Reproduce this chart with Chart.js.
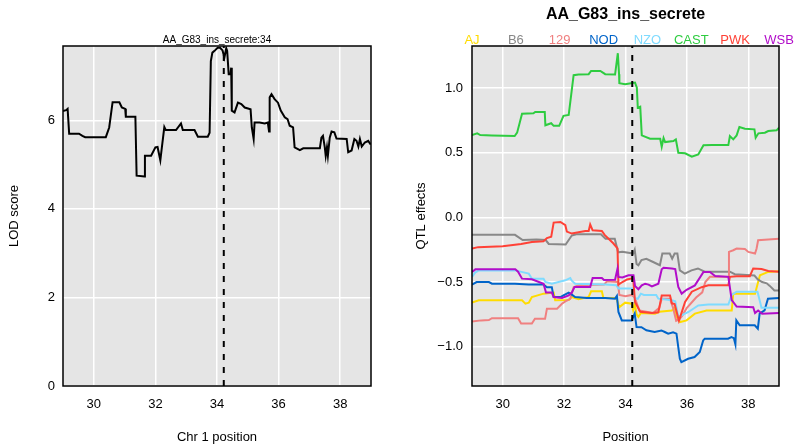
<!DOCTYPE html>
<html>
<head>
<meta charset="utf-8">
<script src="https://cdn.jsdelivr.net/npm/chart.js@4/dist/chart.umd.min.js"></script>
<style>
  html, body { margin:0; padding:0; background:#fff; }
  #wrap { position:relative; width:796px; height:446px; overflow:hidden; }
  canvas { position:absolute; top:0; }
  #c1 { left:0; }
  #c2 { left:400px; }
</style>
</head>
<body>
<div id="wrap">
  <canvas id="c1" width="400" height="446"></canvas>
  <canvas id="c2" width="396" height="446"></canvas>
</div>
<script>
// ---------- data ----------
const lodTitle = 'AA_G83_ins_secrete:34';
const effTitle = 'AA_G83_ins_secrete';
const peakPos = 34.22;
const xTicks = [30, 32, 34, 36, 38];
const lodTicks = [0, 2, 4, 6];
const effTicks = [-1.0, -0.5, 0.0, 0.5, 1.0];

const lodPos = [29.0,29.1,29.15,29.2,29.52,29.63,29.72,30.39,30.5,30.61,30.83,30.91,31.02,31.04,31.35,31.39,31.65,31.66,31.86,32.0,32.07,32.16,32.21,32.29,32.34,32.67,32.83,32.89,33.27,33.38,33.7,33.76,33.8,33.85,33.92,34.02,34.1,34.18,34.24,34.3,34.33,34.38,34.44,34.46,34.48,34.57,34.68,34.79,34.9,35.09,35.13,35.19,35.22,35.38,35.55,35.65,35.69,35.71,35.77,35.87,35.98,36.07,36.2,36.29,36.36,36.47,36.52,36.69,36.8,37.34,37.39,37.44,37.5,37.53,37.57,37.6,37.66,37.72,37.81,37.88,38.21,38.26,38.37,38.46,38.53,38.59,38.64,38.7,38.8,38.91,38.97,39.0];
const lodVal = [6.21,6.23,6.26,5.7,5.7,5.65,5.62,5.62,5.84,6.41,6.41,6.29,6.26,6.08,6.08,4.75,4.73,5.2,5.2,5.39,5.4,5.1,5.39,5.85,5.78,5.78,5.93,5.78,5.78,5.63,5.63,5.72,7.34,7.53,7.57,7.64,7.64,7.58,7.42,7.63,7.57,7.04,7.04,7.19,6.22,6.18,6.4,6.37,6.29,6.25,5.84,5.58,5.95,5.95,5.93,5.95,5.75,6.52,6.59,6.48,6.4,6.22,6.07,6.03,5.88,5.84,5.39,5.33,5.37,5.37,5.61,5.65,5.39,5.2,5.39,5.2,5.61,5.75,5.73,5.59,5.58,5.28,5.32,5.58,5.54,5.41,5.58,5.41,5.5,5.54,5.47,5.47];

const strains = ['AJ','B6','129','NOD','NZO','CAST','PWK','WSB'];
const strainColors = ['#FFDC00','#888888','#F08080','#0064C9','#7FDBFF','#2ECC40','#FF4136','#B10DC9'];

const ajPos = [29.0,29.22,30.63,30.74,30.85,30.95,31.33,31.66,31.71,32.15,32.25,32.47,32.8,32.88,33.23,33.28,33.7,33.77,33.8,33.99,34.2,34.25,34.3,34.36,34.42,34.5,34.96,35.1,35.51,35.6,35.67,35.78,35.99,36.26,36.64,37.46,37.51,38.22,38.32,38.38,38.65,39.0];
const ajVal = [-0.66,-0.642,-0.642,-0.668,-0.66,-0.616,-0.59,-0.582,-0.642,-0.64,-0.616,-0.634,-0.616,-0.572,-0.572,-0.624,-0.624,-0.675,-0.694,-0.66,-0.668,-0.72,-0.67,-0.75,-0.77,-0.74,-0.745,-0.73,-0.72,-0.7,-0.771,-0.81,-0.797,-0.745,-0.72,-0.72,-0.59,-0.59,-0.5,-0.448,-0.422,-0.417];

const b6Pos = [29.0,30.4,30.65,31.1,31.4,31.5,32.05,32.25,32.4,33.2,33.35,33.65,33.76,33.9,34.25,34.3,34.36,34.42,34.52,34.68,34.9,35.12,35.2,35.44,35.52,35.6,35.69,35.77,35.93,36.15,36.36,36.58,37.4,37.56,38.2,38.31,38.45,38.6,38.7,38.85,39.0];
const b6Val = [-0.135,-0.135,-0.175,-0.17,-0.175,-0.205,-0.21,-0.14,-0.13,-0.13,-0.165,-0.165,-0.27,-0.265,-0.28,-0.25,-0.36,-0.37,-0.33,-0.32,-0.345,-0.37,-0.28,-0.28,-0.32,-0.28,-0.28,-0.41,-0.435,-0.41,-0.395,-0.42,-0.42,-0.44,-0.45,-0.48,-0.5,-0.51,-0.53,-0.565,-0.565];

const s129Pos = [29.0,29.3,29.55,29.65,30.5,30.6,30.95,31.05,31.38,31.44,31.77,31.93,32.04,32.2,32.31,32.47,33.3,33.4,33.75,33.8,34.0,34.2,34.3,34.45,34.9,35.1,35.18,35.45,35.55,35.65,35.75,35.85,36.0,36.3,36.5,36.6,36.75,37.34,37.37,37.51,37.62,37.89,38.0,38.22,38.27,38.32,38.65,39.0];
const s129Val = [-0.805,-0.797,-0.795,-0.78,-0.78,-0.822,-0.822,-0.785,-0.785,-0.707,-0.707,-0.668,-0.65,-0.63,-0.54,-0.525,-0.52,-0.495,-0.5,-0.6,-0.61,-0.6,-0.62,-0.72,-0.74,-0.7,-0.63,-0.63,-0.7,-0.8,-0.79,-0.76,-0.7,-0.62,-0.58,-0.5,-0.46,-0.46,-0.267,-0.254,-0.241,-0.245,-0.267,-0.28,-0.241,-0.177,-0.17,-0.165];

const nodPos = [29.0,29.15,29.55,29.65,30.4,30.85,31.33,31.44,31.6,31.66,31.88,31.98,32.15,32.25,32.36,32.74,33.34,33.66,33.72,33.77,33.88,34.2,34.3,34.36,34.52,34.68,34.95,35.17,35.28,35.39,35.55,35.66,35.77,35.82,36.04,36.25,36.42,36.53,36.58,37.34,37.45,37.53,37.58,37.61,37.72,38.21,38.31,38.37,38.53,38.64,39.0];
const nodVal = [-0.52,-0.5,-0.5,-0.513,-0.513,-0.52,-0.52,-0.54,-0.54,-0.617,-0.617,-0.603,-0.582,-0.598,-0.616,-0.624,-0.624,-0.629,-0.608,-0.732,-0.797,-0.797,-0.745,-0.849,-0.85,-0.874,-0.887,-0.875,-0.887,-0.9,-0.89,-0.9,-1.094,-1.12,-1.094,-1.081,-1.042,-0.952,-0.939,-0.939,-0.926,-0.935,-0.983,-0.797,-0.835,-0.835,-0.861,-0.745,-0.719,-0.629,-0.624];

const nzoPos = [29.0,29.1,29.22,30.4,30.85,30.95,31.33,31.39,31.6,32.04,32.2,32.25,32.36,33.34,33.7,33.77,34.25,34.3,34.4,34.5,34.6,35.0,35.07,35.51,35.62,35.72,36.05,36.37,36.7,37.35,37.46,37.62,38.3,38.43,39.0];
const nzoVal = [-0.46,-0.427,-0.41,-0.41,-0.435,-0.474,-0.474,-0.5,-0.513,-0.487,-0.469,-0.49,-0.513,-0.52,-0.525,-0.551,-0.551,-0.625,-0.63,-0.59,-0.6,-0.6,-0.629,-0.642,-0.65,-0.771,-0.732,-0.681,-0.675,-0.675,-0.6,-0.575,-0.575,-0.7,-0.7];

const castPos = [29.0,29.17,29.27,29.65,30.39,30.47,30.63,31.0,31.06,31.37,31.39,31.58,31.66,31.84,31.98,32.15,32.31,32.47,32.8,32.88,33.18,33.34,33.66,33.75,33.79,33.8,33.99,34.18,34.31,34.37,34.4,34.48,34.53,34.8,35.13,35.18,35.24,35.29,35.56,35.64,35.72,35.94,36.16,36.37,36.54,36.81,37.35,37.4,37.51,37.62,37.71,37.89,38.2,38.24,38.33,38.54,38.65,38.92,39.0];
const castVal = [0.638,0.651,0.638,0.635,0.63,0.656,0.803,0.806,0.816,0.816,0.713,0.729,0.709,0.709,0.786,0.793,1.101,1.106,1.109,1.134,1.134,1.109,1.106,1.271,1.109,1.039,1.031,1.039,1.044,1.005,0.85,0.857,0.635,0.609,0.609,0.547,0.614,0.583,0.591,0.604,0.501,0.496,0.47,0.488,0.558,0.56,0.56,0.63,0.604,0.635,0.7,0.687,0.682,0.617,0.651,0.656,0.669,0.674,0.695];

const pwkPos = [29.0,29.2,30.0,30.6,30.95,31.33,31.44,31.58,31.66,31.88,32.04,32.09,32.25,32.69,32.8,32.85,32.93,33.23,33.32,33.6,33.74,33.77,33.9,34.05,34.25,34.31,34.48,34.86,35.07,35.18,35.45,35.51,35.6,35.67,35.74,35.83,35.94,36.16,36.48,36.7,37.35,37.4,37.62,38.05,38.16,38.43,38.65,39.0];
const pwkVal = [-0.24,-0.23,-0.223,-0.205,-0.19,-0.185,-0.16,-0.15,-0.04,-0.035,-0.06,-0.11,-0.125,-0.105,-0.105,-0.055,-0.1,-0.105,-0.135,-0.2,-0.24,-0.52,-0.5,-0.48,-0.47,-0.655,-0.73,-0.74,-0.735,-0.605,-0.605,-0.665,-0.67,-0.735,-0.8,-0.735,-0.655,-0.575,-0.54,-0.525,-0.525,-0.46,-0.455,-0.455,-0.395,-0.4,-0.415,-0.42];

const wsbPos = [29.0,29.11,30.41,30.5,30.63,30.95,31.33,31.41,31.6,31.66,31.93,32.15,32.25,32.34,32.85,32.93,33.23,33.3,33.66,33.74,33.77,33.9,34.1,34.26,34.31,34.42,34.53,34.64,34.75,34.86,35.07,35.18,35.24,35.51,35.62,35.72,35.83,35.99,36.26,36.54,36.75,36.92,37.35,37.46,37.62,38.16,38.22,38.32,38.45,39.0];
const wsbVal = [-0.422,-0.402,-0.402,-0.42,-0.474,-0.479,-0.513,-0.582,-0.582,-0.616,-0.624,-0.603,-0.582,-0.539,-0.539,-0.469,-0.469,-0.485,-0.482,-0.396,-0.461,-0.465,-0.448,-0.448,-0.531,-0.556,-0.526,-0.513,-0.52,-0.534,-0.513,-0.402,-0.39,-0.396,-0.4,-0.539,-0.59,-0.56,-0.526,-0.422,-0.422,-0.453,-0.46,-0.64,-0.69,-0.695,-0.74,-0.72,-0.745,-0.74];

const effPos = [ajPos, b6Pos, s129Pos, nodPos, nzoPos, castPos, pwkPos, wsbPos];
const effVal = [ajVal, b6Val, s129Val, nodVal, nzoVal, castVal, pwkVal, wsbVal];

// ---------- helpers ----------
const FONT = "'Liberation Sans', Arial, Helvetica, sans-serif";
Chart.defaults.font.family = FONT;
Chart.defaults.color = '#000';

const toPts = (xs, ys) => xs.map((x, i) => ({ x: x, y: ys[i] }));
const fmtEff = v => (v < 0 ? '\u2212' : '') + Math.abs(v).toFixed(1);

const panelBox = {
  id: 'panelBox',
  beforeDraw(chart) {
    const { ctx, chartArea: a } = chart;
    ctx.save();
    ctx.fillStyle = '#E5E5E5';
    ctx.fillRect(a.left, a.top, a.right - a.left, a.bottom - a.top);
    ctx.restore();
  },
  afterDraw(chart) {
    const { ctx, chartArea: a } = chart;
    ctx.save();
    ctx.strokeStyle = '#000';
    ctx.lineWidth = 1.5;
    ctx.strokeRect(a.left, a.top, a.right - a.left, a.bottom - a.top);
    ctx.restore();
  }
};

// title centred over the plotting panel (as in the original)
const panelTitle = {
  id: 'panelTitle',
  afterDraw(chart, args, opts) {
    const { ctx, chartArea: a } = chart;
    ctx.save();
    ctx.font = (opts.bold ? 'bold ' : '') + opts.size + 'px ' + FONT;
    ctx.fillStyle = '#000';
    ctx.textAlign = 'center';
    ctx.textBaseline = 'middle';
    ctx.fillText(opts.text, (a.left + a.right) / 2, opts.y);
    ctx.restore();
  }
};

const strainLegend = {
  id: 'strainLegend',
  afterDraw(chart) {
    const { ctx, chartArea: a } = chart;
    ctx.save();
    ctx.font = '13px ' + FONT;
    ctx.textAlign = 'center';
    ctx.textBaseline = 'middle';
    const n = strains.length;
    strains.forEach((s, i) => {
      ctx.fillStyle = strainColors[i];
      ctx.fillText(s, a.left + i * (a.right - a.left) / (n - 1), 40);
    });
    ctx.restore();
  }
};

function xScale(label) {
  return {
    type: 'linear', min: 29, max: 39,
    afterBuildTicks: s => { s.ticks = xTicks.map(v => ({ value: v })); },
    afterFit: s => { s.height = 60; },
    grid: { color: '#FFFFFF', lineWidth: 1.5, drawTicks: false },
    border: { display: false },
    ticks: { padding: 11, autoSkip: false, maxRotation: 0, font: { size: 13 }, color: '#000', callback: v => String(v) },
    title: { display: true, text: label, font: { size: 13 }, color: '#000', padding: { top: 0, bottom: 1 } }
  };
}

// ---------- LOD chart ----------
const lodMin = 0, lodMax = 7.68;
new Chart(document.getElementById('c1'), {
  type: 'line',
  data: {
    datasets: [
      { data: [{ x: peakPos, y: lodMin }, { x: peakPos, y: lodMax }], borderColor: '#000', borderWidth: 2, borderDash: [6, 7], pointRadius: 0, order: -1 },
      { data: toPts(lodPos, lodVal), borderColor: '#000', borderWidth: 2, pointRadius: 0, tension: 0, order: 1 }
    ]
  },
  options: {
    responsive: false, animation: false, events: [],
    layout: { padding: { top: 46, right: 29, bottom: 0, left: 0 } },
    plugins: {
      legend: { display: false }, tooltip: { enabled: false }, title: { display: false },
      panelTitle: { text: lodTitle, size: 10, bold: false, y: 40 }
    },
    scales: {
      x: xScale('Chr 1 position'),
      y: {
        type: 'linear', min: lodMin, max: lodMax,
        afterBuildTicks: s => { s.ticks = lodTicks.map(v => ({ value: v })); },
        afterFit: s => { s.width = 63; },
        grid: { color: '#FFFFFF', lineWidth: 1.5, drawTicks: false },
        border: { display: false },
        ticks: { padding: 8, font: { size: 13 }, color: '#000', callback: v => String(v) },
        title: { display: true, text: 'LOD score', font: { size: 13 }, color: '#000', padding: { top: 7, bottom: 0 } }
      }
    }
  },
  plugins: [panelBox, panelTitle]
});

// ---------- effects chart ----------
const effMin = -1.305, effMax = 1.327;
const effSets = strains.map((s, i) => ({
  label: s,
  data: toPts(effPos[i], effVal[i]),
  borderColor: strainColors[i],
  borderWidth: 2,
  pointRadius: 0,
  tension: 0,
  order: strains.length - i
}));
effSets.push({ data: [{ x: peakPos, y: effMin }, { x: peakPos, y: effMax }], borderColor: '#000', borderWidth: 2, borderDash: [6, 7], pointRadius: 0, order: -1 });

new Chart(document.getElementById('c2'), {
  type: 'line',
  data: { datasets: effSets },
  options: {
    responsive: false, animation: false, events: [],
    layout: { padding: { top: 46, right: 17, bottom: 0, left: 0 } },
    plugins: {
      legend: { display: false }, tooltip: { enabled: false }, title: { display: false },
      panelTitle: { text: effTitle, size: 16, bold: true, y: 14.5 }
    },
    scales: {
      x: xScale('Position'),
      y: {
        type: 'linear', min: effMin, max: effMax,
        afterBuildTicks: s => { s.ticks = effTicks.map(v => ({ value: v })); },
        afterFit: s => { s.width = 72; },
        grid: { color: '#FFFFFF', lineWidth: 1.5, drawTicks: false },
        border: { display: false },
        ticks: { padding: 9, font: { size: 13 }, color: '#000', callback: fmtEff },
        title: { display: true, text: 'QTL effects', font: { size: 13 }, color: '#000', padding: { top: 14, bottom: 0 } }
      }
    }
  },
  plugins: [panelBox, panelTitle, strainLegend]
});
</script>
</body>
</html>
